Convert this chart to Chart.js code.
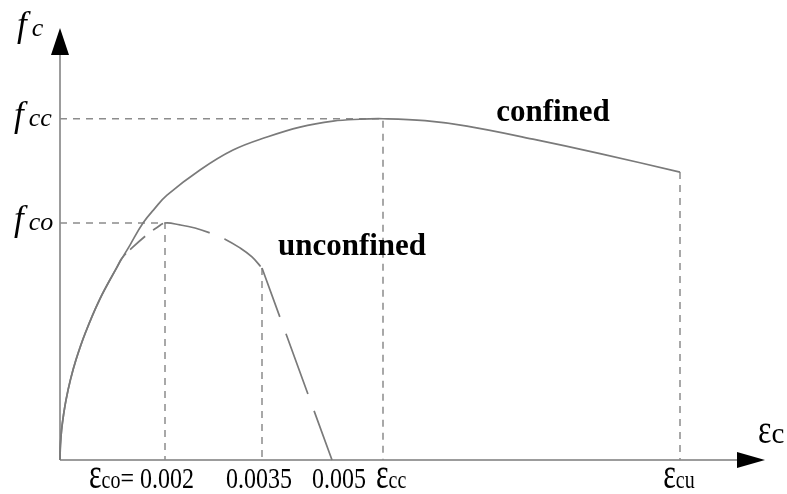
<!DOCTYPE html>
<html>
<head>
<meta charset="utf-8">
<script src="https://cdn.jsdelivr.net/npm/chart.js@4"></script>
<style>
  html, body { margin: 0; padding: 0; background: #fff; }
  canvas { display: block; }
</style>
</head>
<body>
<canvas id="chart" width="787" height="494"></canvas>
<script>
// Key strains and stresses (stress normalised by the unconfined strength f_co)
const EPS_CO = 0.002;    // strain at unconfined peak
const EPS_SP = 0.0035;   // start of the straight spalling branch
const EPS_END = 0.005;   // spalling strain
const EPS_CC = 0.006;    // strain at confined peak
const EPS_CU = 0.0117;   // ultimate confined strain
const F_CO = 1.0;
const F_CC = 1.44;

// Confined concrete curve
const confinedStrain = [0, 0.000008, 0.000030, 0.000067, 0.000114, 0.000198, 0.000303, 0.000482,
  0.000750, 0.001086, 0.001333, 0.001581, 0.001810, 0.002031, 0.002541, 0.003052, 0.003607,
  0.004314, 0.005020, 0.005549, 0.006000, 0.006806, 0.007612, 0.008879, 0.010165, 0.011700];
const confinedStress = [0, 0.063, 0.127, 0.190, 0.253, 0.338, 0.422, 0.536,
  0.675, 0.814, 0.907, 1.000, 1.063, 1.118, 1.224, 1.308, 1.363,
  1.405, 1.430, 1.438, 1.440, 1.432, 1.409, 1.354, 1.293, 1.215];

// Unconfined concrete curve (shares the confined rising branch at first)
const unconfinedStrain = [0, 0.000008, 0.000030, 0.000067, 0.000114, 0.000198, 0.000303, 0.000482,
  0.000750, 0.001086, 0.001181, 0.001371, 0.001676, 0.001848, 0.002000, 0.002232, 0.002464,
  0.002696, 0.002928, 0.003160, 0.003345, 0.003500];
const unconfinedStress = [0, 0.063, 0.127, 0.190, 0.253, 0.338, 0.422, 0.536,
  0.675, 0.814, 0.852, 0.895, 0.954, 0.981, 1.000, 0.992, 0.979,
  0.958, 0.932, 0.895, 0.857, 0.810];

// Straight spalling branch of the unconfined curve
const spallingStrain = [0.0035, 0.005];
const spallingStress = [0.810, 0];

// Axis ticks
const xTickValues = [EPS_CO, EPS_SP, EPS_END, EPS_CC, EPS_CU];
const xTickLabels = ['ε_{co}= 0.002', '0.0035', '0.005', 'ε_{cc}', 'ε_{cu}'];
const yTickValues = [F_CC, F_CO];
const yTickLabels = ['f_{cc}', 'f_{co}'];

const BRANCH_IDX = 10;  // where the unconfined curve leaves the confined one
const PEAK_IDX = 14;    // unconfined peak

const toPoints = (xs, ys) => xs.map((x, i) => ({ x, y: ys[i] }));

// Schematic strain axis: linear between the marked strains
const xAxisStops = {
  values: [0, EPS_CO, EPS_SP, EPS_END, EPS_CC, EPS_CU, 0.0133],
  fractions: [0, 105, 202, 272, 323, 620, 705].map(p => p / 705)
};
function interp(v, xs, ys) {
  let i = 1;
  while (i < xs.length - 1 && v > xs[i]) i++;
  const x0 = xs[i - 1], x1 = xs[i];
  return ys[i - 1] + (v - x0) / (x1 - x0) * (ys[i] - ys[i - 1]);
}
class PiecewiseScale extends Chart.LinearScale {
  static id = 'piecewise';
  getPixelForValue(value) {
    return this.getPixelForDecimal(interp(value, xAxisStops.values, xAxisStops.fractions));
  }
  getValueForPixel(pixel) {
    return interp(this.getDecimalForPixel(pixel), xAxisStops.fractions, xAxisStops.values);
  }
}
Chart.register(PiecewiseScale);

// Rich text: "ε" drawn larger, _{...} drawn as smaller suffix
function parseRuns(str) {
  const runs = [];
  const pushNormal = s => s.split(/(ε)/).filter(Boolean)
    .forEach(p => runs.push({ t: p, k: p === 'ε' ? 'eps' : 'base' }));
  const re = /_\{([^}]*)\}/g;
  let last = 0, m;
  while ((m = re.exec(str))) {
    if (m.index > last) pushNormal(str.slice(last, m.index));
    runs.push({ t: m[1], k: 'sub' });
    last = re.lastIndex;
  }
  if (last < str.length) pushNormal(str.slice(last));
  return runs;
}
function drawRich(ctx, str, x, y, st, align) {
  const runs = parseRuns(str);
  const gap = r => (r.k === 'sub' ? (st.subGap || 0) : 0);
  let total = 0;
  runs.forEach(r => {
    ctx.font = st[r.k];
    r.w = ctx.measureText(r.t).width + gap(r);
    total += r.w;
  });
  let cx = align === 'center' ? x - total / 2 : align === 'right' ? x - total : x;
  runs.forEach(r => {
    ctx.save();
    ctx.translate(cx + gap(r), y);
    ctx.scale(1, r.k === 'eps' ? st.epsSy : r.k === 'sub' ? st.subSy : st.sy);
    ctx.font = st[r.k];
    ctx.textBaseline = 'alphabetic';
    ctx.textAlign = 'left';
    ctx.fillStyle = '#000';
    ctx.fillText(r.t, 0, 0);
    ctx.restore();
    cx += r.w;
  });
}

const strainStyle = {
  base: '24px "Liberation Serif"', sub: '20px "Liberation Serif"', eps: '30px "Liberation Serif"',
  sy: 1.2, subSy: 1.3, epsSy: 1.45, subGap: 0
};
const axisNameStyle = {
  base: '28px "Liberation Serif"', sub: '29px "Liberation Serif"', eps: '32px "Liberation Serif"',
  sy: 1, subSy: 1, epsSy: 1.25, subGap: 0
};
const stressStyle = {
  base: 'italic 35px "Liberation Serif"', sub: 'italic 26px "Liberation Serif"',
  eps: 'italic 35px "Liberation Serif"', sy: 1, subSy: 1, epsSy: 1, subGap: 5
};
const xLabelPlace = [
  { align: 'right', dx: 29 }, { align: 'center', dx: -3 }, { align: 'center', dx: 7 },
  { align: 'left', dx: -7 }, { align: 'center', dx: -1 }
];

const axesPlugin = {
  id: 'axes',
  beforeDatasetsDraw(chart) {
    const { ctx, chartArea: a, scales: { x, y } } = chart;
    const x0 = x.getPixelForValue(0), y0 = y.getPixelForValue(0);
    ctx.save();
    ctx.strokeStyle = '#9c9c9c';
    ctx.lineWidth = 2;
    ctx.beginPath();
    ctx.moveTo(x0, y0); ctx.lineTo(x0, a.top + 27);
    ctx.moveTo(x0, y0); ctx.lineTo(a.right - 28, y0);
    ctx.stroke();
    ctx.fillStyle = '#000';
    ctx.beginPath();
    ctx.moveTo(x0, a.top); ctx.lineTo(x0 - 9, a.top + 27); ctx.lineTo(x0 + 9, a.top + 27);
    ctx.closePath(); ctx.fill();
    ctx.beginPath();
    ctx.moveTo(a.right, y0); ctx.lineTo(a.right - 28, y0 - 8); ctx.lineTo(a.right - 28, y0 + 8);
    ctx.closePath(); ctx.fill();
    ctx.restore();
  },
  afterDatasetsDraw(chart) {
    const { ctx, chartArea: a, scales: { x, y } } = chart;
    const y0 = y.getPixelForValue(0);
    // strain labels
    xTickValues.forEach((v, i) => {
      const p = xLabelPlace[i];
      drawRich(ctx, xTickLabels[i], x.getPixelForValue(v) + p.dx, y0 + 28, strainStyle, p.align);
    });
    drawRich(ctx, 'ε_{c}', a.right - 7, y0 - 17, axisNameStyle, 'left');
    // stress labels
    yTickValues.forEach((v, i) => {
      drawRich(ctx, yTickLabels[i], 14, y.getPixelForValue(v) + 7, stressStyle, 'left');
    });
    drawRich(ctx, 'f_{c}', 17, a.top + 8, stressStyle, 'left');
    // curve names
    ctx.save();
    ctx.fillStyle = '#000';
    ctx.font = 'bold 31px "Liberation Serif"';
    ctx.textAlign = 'center';
    ctx.textBaseline = 'alphabetic';
    ctx.fillText('confined', x.getPixelForValue(0.009263), y.getPixelForValue(1.43));
    ctx.fillText('unconfined', x.getPixelForValue(0.005392), y.getPixelForValue(0.865));
    ctx.restore();
  }
};

const curveColor = '#7a7a7a';
const guideColor = '#8c8c8c';
const guide = (pts) => ({
  data: pts, borderColor: guideColor, borderWidth: 1.5, borderDash: [7, 6],
  pointRadius: 0, tension: 0, clip: false
});

new Chart(document.getElementById('chart'), {
  type: 'line',
  data: {
    datasets: [
      {
        label: 'confined',
        data: toPoints(confinedStrain, confinedStress),
        borderColor: curveColor, borderWidth: 1.7, pointRadius: 0,
        tension: 0.4, clip: false
      },
      {
        label: 'unconfined',
        data: toPoints(unconfinedStrain, unconfinedStress),
        borderColor: curveColor, borderWidth: 1.7, pointRadius: 0,
        tension: 0.4, clip: false,
        segment: {
          borderDash: c => c.p0DataIndex < BRANCH_IDX ? []
            : c.p0DataIndex < PEAK_IDX ? [6, 6, 20, 10, 12, 30] : [46, 16]
        }
      },
      {
        label: 'unconfined spalling',
        data: toPoints(spallingStrain, spallingStress),
        borderColor: curveColor, borderWidth: 1.7, pointRadius: 0,
        borderDash: [52, 18, 64, 18, 60, 20], tension: 0, clip: false
      },
      guide([{ x: 0, y: F_CC }, { x: EPS_CC, y: F_CC }, { x: EPS_CC, y: 0 }]),
      guide([{ x: 0, y: F_CO }, { x: EPS_CO, y: F_CO }, { x: EPS_CO, y: 0 }]),
      guide([{ x: EPS_SP, y: spallingStress[0] }, { x: EPS_SP, y: 0 }]),
      guide([{ x: EPS_CU, y: confinedStress[confinedStress.length - 1] }, { x: EPS_CU, y: 0 }])
    ]
  },
  options: {
    responsive: false,
    animation: false,
    devicePixelRatio: 1,
    layout: { autoPadding: false, padding: { left: 60, right: 22, top: 28, bottom: 34 } },
    plugins: { legend: { display: false }, tooltip: { enabled: false } },
    scales: {
      x: { type: 'piecewise', min: 0, max: 0.0133, display: false },
      y: { type: 'linear', min: 0, max: 1.823, display: false }
    }
  },
  plugins: [axesPlugin]
});
</script>
</body>
</html>
